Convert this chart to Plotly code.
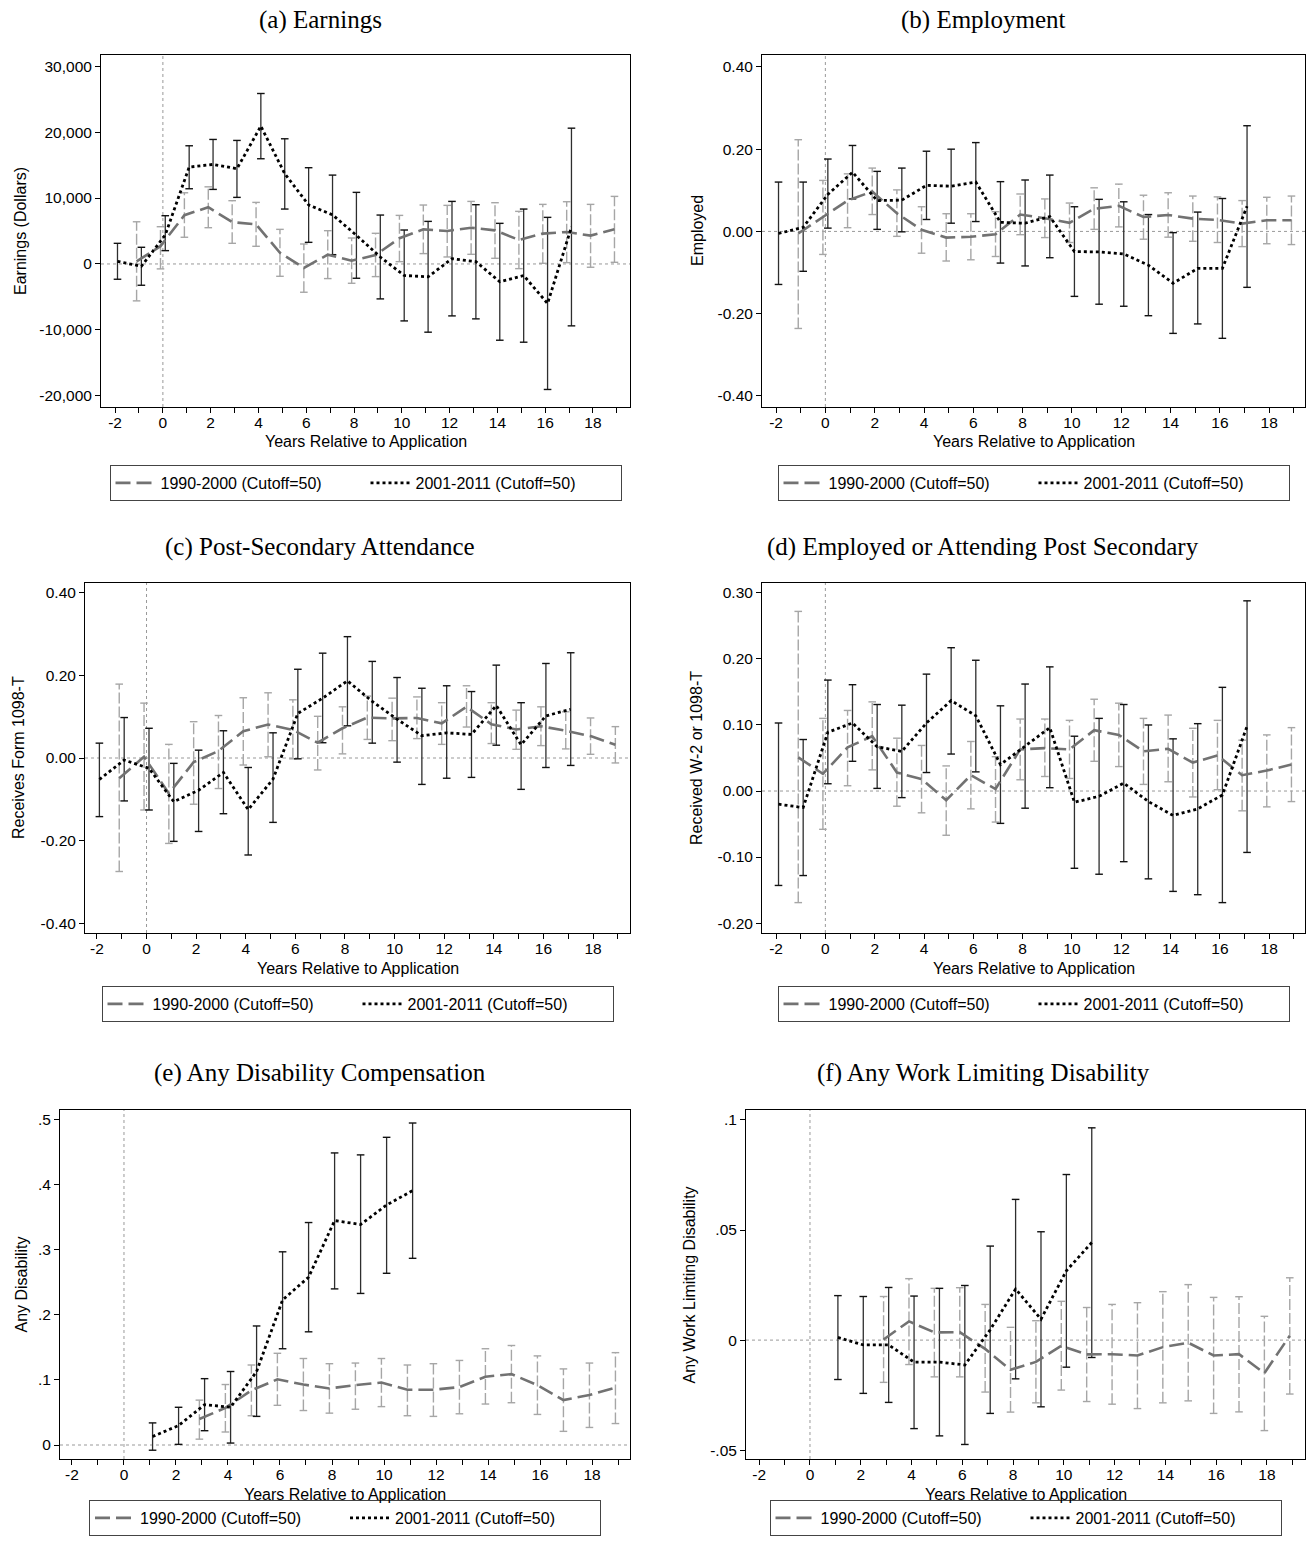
import plotly.graph_objects as go

# ---------------- data ----------------
X_TICKS = list(range(-2, 20))
X_LABELS = [str(v) if v % 2 == 0 else "" for v in X_TICKS]

SERIES_OLD = "1990-2000 (Cutoff=50)"
SERIES_NEW = "2001-2011 (Cutoff=50)"

YEARS_OLD_ABCD = list(range(-1, 20))
YEARS_NEW_ABCD = list(range(-2, 18))
YEARS_OLD_EF = list(range(3, 20))
YEARS_NEW_EF = list(range(1, 12))

# (a) Earnings
a_old_est = [400, 2700, 7400, 8600, 6350, 6000, 1700, -600, 1400, 500, 1350, 3900, 5250, 5000, 5500, 5100, 3650, 4600, 4850, 4300, 5250]
a_old_lo = [-5600, -750, 4050, 5500, 3130, 2680, -1870, -4290, -2220, -2930, -1920, 350, 1570, 1060, 1460, 860, -710, 100, 200, -500, 250]
a_old_hi = [6400, 5650, 10800, 11700, 9600, 9340, 5250, 3030, 5050, 3940, 4650, 7370, 8940, 8890, 9490, 9290, 7980, 9040, 9440, 9040, 10250]
a_new_est = [400, -350, 4400, 14700, 15100, 14450, 20900, 13700, 8950, 7450, 4350, 1050, -1750, -1950, 800, 350, -2700, -1750, -6000, 5600]
a_new_lo = [-2320, -3230, 2020, 11410, 11310, 10100, 15960, 8330, 3280, 1410, -2170, -5300, -8640, -10350, -7880, -8330, -11570, -11870, -19040, -9390]
a_new_hi = [3130, 2530, 7320, 17930, 18890, 18740, 25860, 18990, 14600, 13480, 10860, 7420, 5150, 6460, 9490, 8990, 6160, 8330, 7070, 20600]
a_yticks = [-20000, -10000, 0, 10000, 20000, 30000]
a_ylabels = ["-20,000", "-10,000", "0", "10,000", "20,000", "30,000"]

# (b) Employment
b_old_est = [-0.005, 0.034, 0.075, 0.097, 0.044, 0.004, -0.015, -0.013, -0.007, 0.041, 0.032, 0.021, 0.055, 0.062, 0.035, 0.040, 0.031, 0.028, 0.019, 0.027, 0.027]
b_old_lo = [-0.236, -0.056, 0.009, 0.041, -0.012, -0.053, -0.072, -0.069, -0.061, -0.008, -0.015, -0.027, 0.005, 0.011, -0.019, -0.014, -0.024, -0.027, -0.037, -0.030, -0.032]
b_old_hi = [0.223, 0.124, 0.140, 0.154, 0.101, 0.060, 0.043, 0.043, 0.048, 0.091, 0.079, 0.069, 0.106, 0.115, 0.088, 0.094, 0.086, 0.084, 0.075, 0.083, 0.086]
b_new_est = [-0.005, 0.010, 0.090, 0.144, 0.075, 0.076, 0.112, 0.110, 0.120, 0.022, 0.020, 0.036, -0.049, -0.050, -0.055, -0.082, -0.126, -0.090, -0.090, 0.061]
b_new_lo = [-0.129, -0.097, 0.008, 0.079, 0.005, -0.001, 0.029, 0.020, 0.024, -0.077, -0.084, -0.064, -0.158, -0.177, -0.182, -0.205, -0.248, -0.225, -0.260, -0.136]
b_new_hi = [0.120, 0.120, 0.176, 0.209, 0.146, 0.154, 0.195, 0.200, 0.216, 0.121, 0.125, 0.137, 0.060, 0.078, 0.072, 0.041, -0.003, 0.047, 0.080, 0.257]
b_yticks = [-0.4, -0.2, 0.0, 0.2, 0.4]
b_ylabels = ["-0.40", "-0.20", "0.00", "0.20", "0.40"]

# (c) Post-Secondary Attendance
c_old_est = [-0.049, 0.003, -0.086, -0.010, 0.017, 0.065, 0.081, 0.068, 0.037, 0.072, 0.098, 0.096, 0.097, 0.084, 0.124, 0.082, 0.069, 0.077, 0.066, 0.053, 0.032]
c_old_lo = [-0.275, -0.126, -0.207, -0.112, -0.074, -0.017, 0.003, -0.002, -0.029, 0.010, 0.045, 0.042, 0.047, 0.033, 0.075, 0.035, 0.021, 0.030, 0.022, 0.009, -0.012]
c_old_hi = [0.179, 0.133, 0.033, 0.088, 0.103, 0.146, 0.158, 0.141, 0.101, 0.124, 0.150, 0.145, 0.148, 0.134, 0.175, 0.134, 0.116, 0.124, 0.112, 0.097, 0.076]
c_new_est = [-0.052, -0.005, -0.025, -0.106, -0.078, -0.035, -0.125, -0.051, 0.108, 0.145, 0.187, 0.137, 0.094, 0.054, 0.061, 0.057, 0.127, 0.032, 0.102, 0.118]
c_new_lo = [-0.142, -0.104, -0.126, -0.202, -0.178, -0.135, -0.235, -0.156, -0.002, 0.037, 0.078, 0.036, -0.010, -0.064, -0.049, -0.047, 0.031, -0.076, -0.023, -0.018]
c_new_hi = [0.036, 0.098, 0.072, -0.013, 0.019, 0.066, -0.023, 0.061, 0.215, 0.254, 0.294, 0.234, 0.195, 0.169, 0.175, 0.161, 0.225, 0.134, 0.229, 0.255]
c_yticks = [-0.4, -0.2, 0.0, 0.2, 0.4]
c_ylabels = ["-0.40", "-0.20", "0.00", "0.20", "0.40"]

# (d) Employed or Attending Post Secondary
d_old_est = [0.051, 0.026, 0.066, 0.083, 0.028, 0.018, -0.014, 0.024, 0.003, 0.063, 0.065, 0.063, 0.092, 0.085, 0.060, 0.064, 0.043, 0.054, 0.024, 0.031, 0.040]
d_old_lo = [-0.169, -0.058, 0.008, 0.032, -0.023, -0.033, -0.067, -0.027, -0.047, 0.017, 0.022, 0.019, 0.045, 0.037, 0.010, 0.014, -0.009, 0.002, -0.030, -0.024, -0.016]
d_old_hi = [0.272, 0.110, 0.122, 0.135, 0.080, 0.069, 0.038, 0.075, 0.052, 0.109, 0.109, 0.107, 0.139, 0.133, 0.110, 0.115, 0.095, 0.107, 0.077, 0.085, 0.096]
d_new_est = [-0.020, -0.025, 0.089, 0.103, 0.067, 0.060, 0.103, 0.137, 0.114, 0.040, 0.068, 0.096, -0.017, -0.008, 0.012, -0.016, -0.037, -0.027, -0.006, 0.098]
d_new_lo = [-0.143, -0.128, 0.011, 0.045, 0.004, -0.010, 0.028, 0.056, 0.029, -0.049, -0.026, 0.005, -0.117, -0.126, -0.107, -0.133, -0.152, -0.157, -0.169, -0.093]
d_new_hi = [0.103, 0.078, 0.168, 0.161, 0.131, 0.130, 0.177, 0.217, 0.198, 0.129, 0.162, 0.188, 0.083, 0.110, 0.131, 0.100, 0.079, 0.102, 0.157, 0.288]
d_yticks = [-0.2, -0.1, 0.0, 0.1, 0.2, 0.3]
d_ylabels = ["-0.20", "-0.10", "0.00", "0.10", "0.20", "0.30"]

# (e) Any Disability Compensation
e_old_est = [0.040, 0.057, 0.084, 0.101, 0.093, 0.087, 0.092, 0.096, 0.085, 0.085, 0.089, 0.105, 0.109, 0.092, 0.069, 0.077, 0.088]
e_old_lo = [0.009, 0.020, 0.045, 0.061, 0.053, 0.049, 0.055, 0.059, 0.045, 0.044, 0.048, 0.063, 0.065, 0.047, 0.021, 0.027, 0.033]
e_old_hi = [0.069, 0.093, 0.123, 0.141, 0.133, 0.125, 0.126, 0.133, 0.123, 0.125, 0.130, 0.148, 0.153, 0.137, 0.117, 0.126, 0.142]
e_new_est = [0.013, 0.030, 0.062, 0.058, 0.113, 0.223, 0.258, 0.345, 0.339, 0.369, 0.391]
e_new_lo = [-0.008, 0.001, 0.022, 0.003, 0.044, 0.148, 0.174, 0.240, 0.233, 0.264, 0.287]
e_new_hi = [0.034, 0.058, 0.102, 0.113, 0.183, 0.297, 0.342, 0.449, 0.446, 0.473, 0.495]
e_yticks = [0.0, 0.1, 0.2, 0.3, 0.4, 0.5]
e_ylabels = ["0", ".1", ".2", ".3", ".4", ".5"]

# (f) Any Work Limiting Disability
f_old_est = [0.0003, 0.0085, 0.0035, 0.0036, -0.0040, -0.0135, -0.0099, -0.0026, -0.0065, -0.0064, -0.0070, -0.0032, -0.0012, -0.0070, -0.0064, -0.0150, 0.0020]
f_old_lo = [-0.0192, -0.0111, -0.0167, -0.0167, -0.0236, -0.0327, -0.0285, -0.0227, -0.0279, -0.0291, -0.0311, -0.0285, -0.0276, -0.0333, -0.0326, -0.0411, -0.0245]
f_old_hi = [0.0198, 0.0279, 0.0235, 0.0238, 0.0162, 0.0058, 0.0088, 0.0176, 0.0148, 0.0162, 0.0170, 0.0220, 0.0252, 0.0194, 0.0197, 0.0108, 0.0283]
f_new_est = [0.0012, -0.0022, -0.0022, -0.0100, -0.0100, -0.0113, 0.0047, 0.0232, 0.0095, 0.0315, 0.0443]
f_new_lo = [-0.0179, -0.0242, -0.0283, -0.0402, -0.0435, -0.0474, -0.0333, -0.0176, -0.0303, -0.0123, -0.0079]
f_new_hi = [0.0202, 0.0198, 0.0239, 0.0200, 0.0235, 0.0248, 0.0427, 0.0639, 0.0492, 0.0752, 0.0964]
f_yticks = [-0.05, 0.0, 0.05, 0.1]
f_ylabels = ["-.05", "0", ".05", ".1"]

# ---------------- layout / style ----------------
W, H = 1310, 1545
SANS = "Liberation Sans, Arial, sans-serif"
SERIF = "Liberation Serif, Times New Roman, serif"
TICK_SIZE = 15.5
LABEL_SIZE = 16

OLD_OFFSET = -0.1
NEW_OFFSET = 0.1
CAP_PX = 3.8

panels = [
    dict(title="(a) Earnings", ytitle="Earnings (Dollars)", box=(101, 630, 55, 407), xr=(-2.59, 19.55),
         yr=(-21700, 31700), yt=a_yticks, yl=a_ylabels, ytx=20, col=320, titley=20, xtitley=441, legy=465,
         old=(YEARS_OLD_ABCD, a_old_est, a_old_lo, a_old_hi), new=(YEARS_NEW_ABCD, a_new_est, a_new_lo, a_new_hi)),
    dict(title="(b) Employment", ytitle="Employed", box=(762, 1305, 55, 407), xr=(-2.57, 19.45),
         yr=(-0.427, 0.429), yt=b_yticks, yl=b_ylabels, ytx=697, col=983, titley=20, xtitley=441, legy=465,
         old=(YEARS_OLD_ABCD, b_old_est, b_old_lo, b_old_hi), new=(YEARS_NEW_ABCD, b_new_est, b_new_lo, b_new_hi)),
    dict(title="(c) Post-Secondary Attendance", ytitle="Receives Form 1098-T", box=(85, 630, 583, 933), xr=(-2.48, 19.49),
         yr=(-0.424, 0.424), yt=c_yticks, yl=c_ylabels, ytx=19, col=320, titley=547, xtitley=968, legy=986,
         old=(YEARS_OLD_ABCD, c_old_est, c_old_lo, c_old_hi), new=(YEARS_NEW_ABCD, c_new_est, c_new_lo, c_new_hi)),
    dict(title="(d) Employed or Attending Post Secondary", ytitle="Received W-2 or 1098-T", box=(762, 1305, 583, 933), xr=(-2.57, 19.45),
         yr=(-0.215, 0.315), yt=d_yticks, yl=d_ylabels, ytx=697, col=983, titley=547, xtitley=968, legy=986,
         old=(YEARS_OLD_ABCD, d_old_est, d_old_lo, d_old_hi), new=(YEARS_NEW_ABCD, d_new_est, d_new_lo, d_new_hi)),
    dict(title="(e) Any Disability Compensation", ytitle="Any Disability", box=(60, 630, 1110, 1459), xr=(-2.46, 19.46),
         yr=(-0.0215, 0.515), yt=e_yticks, yl=e_ylabels, ytx=21, col=320, titley=1073, xtitley=1494, legy=1500,
         old=(YEARS_OLD_EF, e_old_est, e_old_lo, e_old_hi), new=(YEARS_NEW_EF, e_new_est, e_new_lo, e_new_hi)),
    dict(title="(f) Any Work Limiting Disability", ytitle="Any Work Limiting Disability", box=(746, 1305, 1110, 1459), xr=(-2.52, 19.5),
         yr=(-0.054, 0.1045), yt=f_yticks, yl=f_ylabels, ytx=689, col=983, titley=1073, xtitley=1494, legy=1500,
         old=(YEARS_OLD_EF, f_old_est, f_old_lo, f_old_hi), new=(YEARS_NEW_EF, f_new_est, f_new_lo, f_new_hi)),
]


def err_segments(xs, lo, hi, cap):
    sx, sy, cx, cy = [], [], [], []
    for x, l, h in zip(xs, lo, hi):
        sx += [x, x, None]
        sy += [l, h, None]
        cx += [x - cap, x + cap, None, x - cap, x + cap, None]
        cy += [l, l, None, h, h, None]
    return sx, sy, cx, cy


fig = go.Figure()
annotations = []
shapes = []
layout = {}

for i, p in enumerate(panels, start=1):
    sfx = "" if i == 1 else str(i)
    xref, yref = "x" + sfx, "y" + sfx
    legname = "legend" + sfx
    left, right, top, bottom = p["box"]
    ppu = (right - left) / (p["xr"][1] - p["xr"][0])
    cap = CAP_PX / ppu

    oy, oe, ol, oh = p["old"]
    ny, ne, nl, nh = p["new"]
    ox = [y + OLD_OFFSET for y in oy]
    nx = [y + NEW_OFFSET for y in ny]

    # old error bars (light grey, dashed stems)
    sx, sy, cx, cy = err_segments(ox, ol, oh, cap)
    fig.add_trace(go.Scatter(x=sx, y=sy, mode="lines", xaxis=xref, yaxis=yref, showlegend=False,
                             hoverinfo="skip", line=dict(color="#a6a6a6", width=1.4, dash="11px,3px")))
    fig.add_trace(go.Scatter(x=cx, y=cy, mode="lines", xaxis=xref, yaxis=yref, showlegend=False,
                             hoverinfo="skip", line=dict(color="#a6a6a6", width=1.4)))
    # new error bars (dark, solid)
    sx, sy, cx, cy = err_segments(nx, nl, nh, cap)
    fig.add_trace(go.Scatter(x=sx, y=sy, mode="lines", xaxis=xref, yaxis=yref, showlegend=False,
                             hoverinfo="skip", line=dict(color="#2e2e2e", width=1.3)))
    fig.add_trace(go.Scatter(x=cx, y=cy, mode="lines", xaxis=xref, yaxis=yref, showlegend=False,
                             hoverinfo="skip", line=dict(color="#111111", width=1.4)))
    # estimate lines
    fig.add_trace(go.Scatter(x=ox, y=oe, mode="lines", xaxis=xref, yaxis=yref, name=SERIES_OLD,
                             legend=legname, line=dict(color="#727272", width=2.6, dash="15px,6px")))
    fig.add_trace(go.Scatter(x=nx, y=ne, mode="lines", xaxis=xref, yaxis=yref, name=SERIES_NEW,
                             legend=legname, line=dict(color="#000000", width=2.8, dash="3px,3px")))

    xdom = [left / W, right / W]
    ydom = [1 - bottom / H, 1 - top / H]
    axis_common = dict(showline=True, linecolor="#000", linewidth=1, mirror=True, showgrid=False,
                       zeroline=False, ticks="outside", ticklen=5, tickwidth=1, tickcolor="#000",
                       tickfont=dict(family=SANS, size=TICK_SIZE, color="#000"))
    layout["xaxis" + sfx] = dict(domain=xdom, range=list(p["xr"]), anchor=yref, tickmode="array",
                                 tickvals=X_TICKS, ticktext=X_LABELS, ticklabelstandoff=-4, **axis_common)
    layout["yaxis" + sfx] = dict(domain=ydom, range=list(p["yr"]), anchor=xref, tickmode="array",
                                 tickvals=p["yt"], ticktext=p["yl"], **axis_common)

    # reference lines at 0
    shapes.append(dict(type="line", xref=xref, yref=yref + " domain", x0=0, x1=0, y0=0, y1=1,
                       line=dict(color="#999", width=1, dash="dot"), layer="below"))
    shapes.append(dict(type="line", xref=xref + " domain", yref=yref, x0=0, x1=1, y0=0, y1=0,
                       line=dict(color="#999", width=1, dash="dot"), layer="below"))

    # titles
    annotations.append(dict(text=p["title"], x=p["col"] / W, y=1 - p["titley"] / H, xref="paper", yref="paper",
                            xanchor="center", yanchor="middle", showarrow=False,
                            font=dict(family=SERIF, size=25, color="#000")))
    annotations.append(dict(text=p["ytitle"], x=p["ytx"] / W, y=1 - (top + bottom) / 2 / H, xref="paper",
                            yref="paper", xanchor="center", yanchor="middle", textangle=-90, showarrow=False,
                            font=dict(family=SANS, size=LABEL_SIZE, color="#000")))
    annotations.append(dict(text="Years Relative to Application", x=(left + right) / 2 / W,
                            y=1 - p["xtitley"] / H, xref="paper", yref="paper", xanchor="center",
                            yanchor="middle", showarrow=False, font=dict(family=SANS, size=LABEL_SIZE, color="#000")))

    layout[legname] = dict(orientation="h", x=(left + right) / 2 / W, xanchor="center", y=1 - p["legy"] / H,
                           yanchor="top", bordercolor="#444", borderwidth=1, bgcolor="#fff",
                           font=dict(family=SANS, size=LABEL_SIZE, color="#000"), entrywidth=200,
                           itemwidth=40)

fig.update_layout(width=W, height=H, autosize=False, margin=dict(l=0, r=0, t=0, b=0),
                  paper_bgcolor="#fff", plot_bgcolor="#fff", annotations=annotations, shapes=shapes,
                  **layout)

fig.write_html("out.html")
